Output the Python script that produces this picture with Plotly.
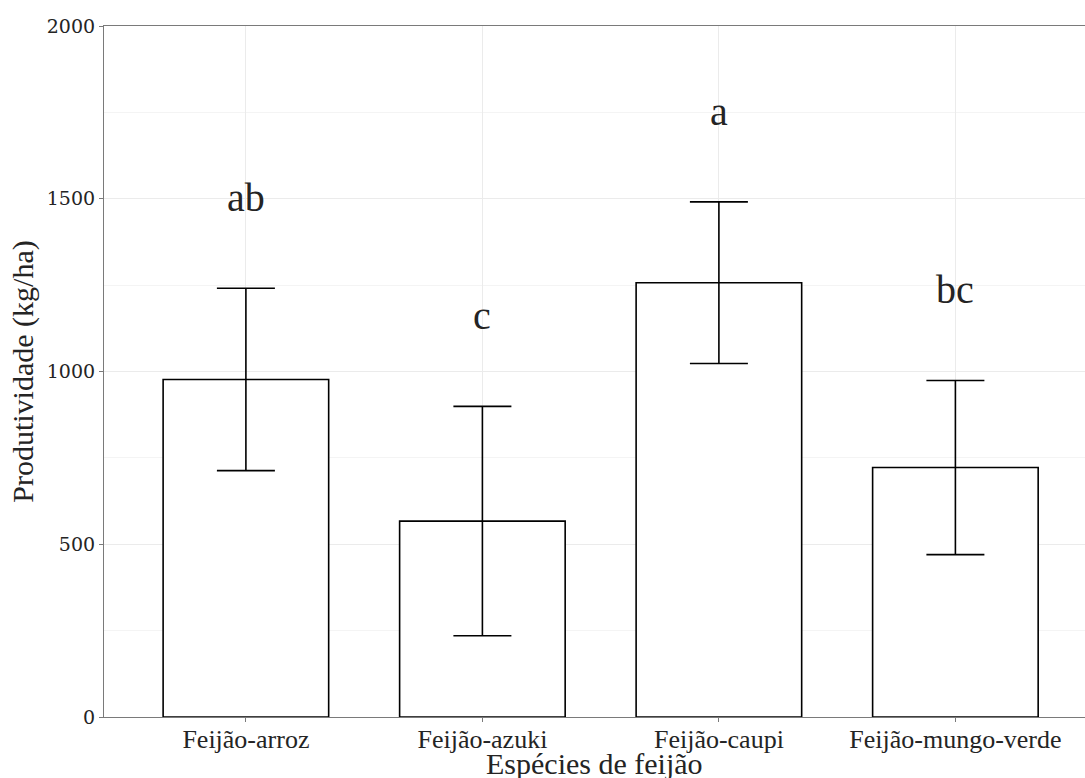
import plotly.graph_objects as go

# Mean bean yield per species with standard error and Tukey group letters
species = ["Feijão-arroz", "Feijão-azuki", "Feijão-caupi", "Feijão-mungo-verde"]
yield_mean = [977, 567, 1257, 722]
yield_se = [264, 332, 234, 252]
group_letters = ["ab", "c", "a", "bc"]

y_ticks = [0, 500, 1000, 1500, 2000]

LETTER_GAP = 262  # vertical gap between error-bar top and letter
SERIF = "Liberation Serif"

x_pos = list(range(len(species)))

fig = go.Figure()
fig.add_trace(
    go.Bar(
        x=x_pos,
        y=yield_mean,
        width=0.7,
        marker=dict(color="white", line=dict(color="black", width=1.6)),
        error_y=dict(
            type="data",
            array=yield_se,
            symmetric=True,
            color="black",
            thickness=1.6,
            width=29,
        ),
        showlegend=False,
    )
)

for xi, m, s, lab in zip(x_pos, yield_mean, yield_se, group_letters):
    fig.add_annotation(
        x=xi,
        y=m + s + LETTER_GAP,
        text=lab,
        showarrow=False,
        xref="x",
        yref="y",
        yanchor="middle",
        font=dict(family=SERIF, size=40),
    )

# x-axis title placed below the category labels
fig.add_annotation(
    x=0.5,
    y=-0.067,
    xref="paper",
    yref="paper",
    text="Espécies de feijão",
    showarrow=False,
    yanchor="middle",
    font=dict(family=SERIF, size=30),
)

# text colour comes from the template so font families are kept intact
fig.update_layout(
    template="simple_white",
    width=1085,
    height=778,
    margin=dict(l=104, r=0, t=26, b=61),
    paper_bgcolor="white",
    plot_bgcolor="white",
)

fig.update_xaxes(
    range=[-0.6, 3.548],
    tickmode="array",
    tickvals=x_pos,
    ticktext=species,
    tickfont=dict(family=SERIF, size=26),
    ticks="outside",
    ticklen=4,
    tickcolor="#7a7a7a",
    ticklabelstandoff=-5,
    showline=True,
    linecolor="#7a7a7a",
    linewidth=1.2,
    mirror=True,
    showgrid=True,
    gridcolor="#ebebeb",
    gridwidth=1.1,
    zeroline=False,
)

fig.update_yaxes(
    range=[0, 2000],
    tickmode="array",
    tickvals=y_ticks,
    ticktext=[str(v) for v in y_ticks],
    tickfont=dict(family="DejaVu Serif", size=19),
    ticks="outside",
    ticklen=4,
    tickcolor="#7a7a7a",
    showline=True,
    linecolor="#7a7a7a",
    linewidth=1.2,
    mirror=False,
    showgrid=True,
    gridcolor="#ebebeb",
    gridwidth=1.1,
    zeroline=False,
    minor=dict(dtick=250, showgrid=True, gridcolor="#f4f4f4", gridwidth=0.8, ticks=""),
    title=dict(
        text="Produtividade (kg/ha)",
        font=dict(family=SERIF, size=30),
        standoff=4,
    ),
)

fig.write_html("out.html")
